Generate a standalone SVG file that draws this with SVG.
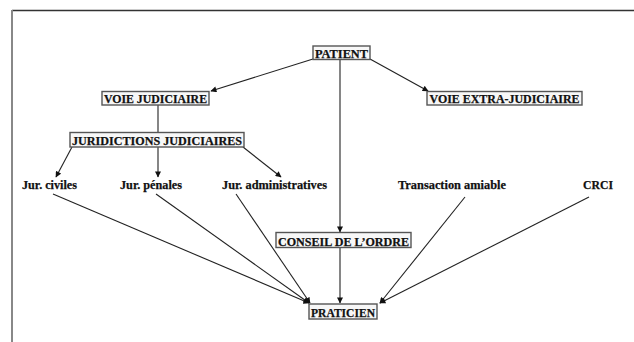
<svg xmlns="http://www.w3.org/2000/svg" width="634" height="342" viewBox="0 0 634 342">
<defs>
<style>
.box{fill:#f7f7f7;stroke:#555;stroke-width:1.4}
.t{font-family:"Liberation Serif","Times New Roman",serif;font-weight:bold;font-size:13px;fill:#111;stroke:#111;stroke-width:0.25}
.c{text-anchor:middle}
.e{stroke:#222;stroke-width:1.1;fill:none;marker-end:url(#ah)}
</style>
<marker id="ah" viewBox="0 0 10 10" refX="9" refY="5" markerWidth="7" markerHeight="6" markerUnits="userSpaceOnUse" orient="auto">
<path d="M0,0 L10,5 L0,10 z" fill="#111"/>
</marker>
</defs>
<rect width="634" height="342" fill="#fff"/>
<line x1="12" y1="10.5" x2="634" y2="10.5" stroke="#333" stroke-width="1.3"/>
<line x1="12" y1="10" x2="12" y2="342" stroke="#888" stroke-width="2"/>
<g id="connectors">
<line class="e" x1="313" y1="59" x2="211" y2="91"/>
<line class="e" x1="370" y1="59" x2="428" y2="91"/>
<line class="e" x1="340" y1="59" x2="340" y2="232"/>
<line x1="158" y1="105" x2="158" y2="132" stroke="#222" stroke-width="1.1"/>
<line class="e" x1="72" y1="147" x2="56" y2="177"/>
<line class="e" x1="158" y1="147" x2="158" y2="177"/>
<line class="e" x1="243" y1="147" x2="281" y2="177"/>
<line class="e" x1="53" y1="194" x2="309" y2="303"/>
<line class="e" x1="156" y1="194" x2="309" y2="303"/>
<line class="e" x1="236" y1="194" x2="310" y2="303"/>
<line class="e" x1="340" y1="248" x2="340" y2="303"/>
<line class="e" x1="465" y1="197" x2="380" y2="303"/>
<line class="e" x1="589" y1="197" x2="380" y2="303"/>
</g>
<g id="patient"><rect class="box" x="313" y="46" width="57" height="13.5"/><text class="t c" x="341.5" y="57.5" textLength="53" lengthAdjust="spacingAndGlyphs">PATIENT</text></g>
<g id="voie-judiciaire"><rect class="box" x="102" y="91.5" width="107" height="13.5"/><text class="t c" x="155.5" y="103" textLength="103" lengthAdjust="spacingAndGlyphs">VOIE JUDICIAIRE</text></g>
<g id="voie-extra"><rect class="box" x="427" y="91.5" width="155" height="13.5"/><text class="t c" x="504.5" y="103" textLength="150" lengthAdjust="spacingAndGlyphs">VOIE EXTRA-JUDICIAIRE</text></g>
<g id="juridictions"><rect class="box" x="70" y="132.5" width="174" height="14.5"/><text class="t c" x="157" y="144.5" textLength="170" lengthAdjust="spacingAndGlyphs">JURIDICTIONS JUDICIAIRES</text></g>
<g id="jur-civiles"><text class="t" x="22" y="189" textLength="55" lengthAdjust="spacingAndGlyphs">Jur. civiles</text></g>
<g id="jur-penales"><text class="t" x="120" y="189" textLength="62" lengthAdjust="spacingAndGlyphs">Jur. pénales</text></g>
<g id="jur-admin"><text class="t" x="222" y="189" textLength="105" lengthAdjust="spacingAndGlyphs">Jur. administratives</text></g>
<g id="transaction"><text class="t" x="398" y="189" textLength="108" lengthAdjust="spacingAndGlyphs">Transaction amiable</text></g>
<g id="crci"><text class="t" x="583" y="189" textLength="30" lengthAdjust="spacingAndGlyphs">CRCI</text></g>
<g id="conseil"><rect class="box" x="276" y="232.5" width="135" height="15"/><text class="t c" x="343.5" y="245.5" textLength="131" lengthAdjust="spacingAndGlyphs">CONSEIL DE L’ORDRE</text></g>
<g id="praticien"><rect class="box" x="309" y="304" width="68" height="15"/><text class="t c" x="343" y="316.5" textLength="64" lengthAdjust="spacingAndGlyphs">PRATICIEN</text></g>
</svg>
